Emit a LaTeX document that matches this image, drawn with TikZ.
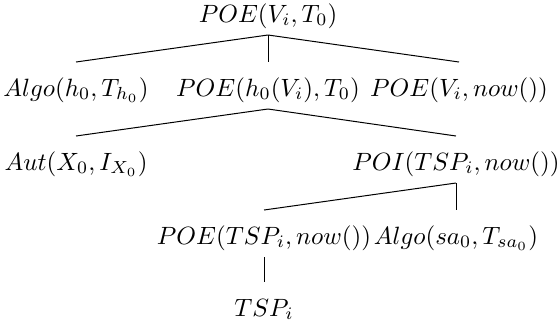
\documentclass[tikz,border=0pt]{standalone}
\begin{document}
\begin{tikzpicture}[x=0.40pt,y=-0.40pt,
  term/.style={inner xsep=0pt, inner ysep=0pt, text height=13.4pt, text depth=5pt, anchor=base},
  branch/.style={line width=0.4pt}]
\useasboundingbox (0,0) rectangle (558,321);
\node[term] (r) at (268,22) {$POE(V_i,T_0)$};
\node[term] (algoh) at (76,96) {$Algo(h_0,T_{h_0})$};
\node[term] (poeh) at (268,96) {$POE(h_0(V_i),T_0)$};
\node[term] (poenow) at (459,96) {$POE(V_i,now())$};
\node[term] (aut) at (76,170) {$Aut(X_0,I_{X_0})$};
\node[term] (poi) at (456,170) {$POI(TSP_i,now())$};
\node[term] (poetsp) at (264,244) {$POE(TSP_i,now())$};
\node[term] (algosa) at (456,244) {$Algo(sa_0,T_{sa_0})$};
\node[term] (tsp) at (264,316) {$TSP_i$};
\draw[branch] (r.south) -- (algoh.north);
\draw[branch] (r.south) -- (poeh.north);
\draw[branch] (r.south) -- (poenow.north);
\draw[branch] (poeh.south) -- (aut.north);
\draw[branch] (poeh.south) -- (poi.north);
\draw[branch] (poi.south) -- (poetsp.north);
\draw[branch] (poi.south) -- (algosa.north);
\draw[branch] (poetsp.south) -- (tsp.north);
\end{tikzpicture}
\end{document}
